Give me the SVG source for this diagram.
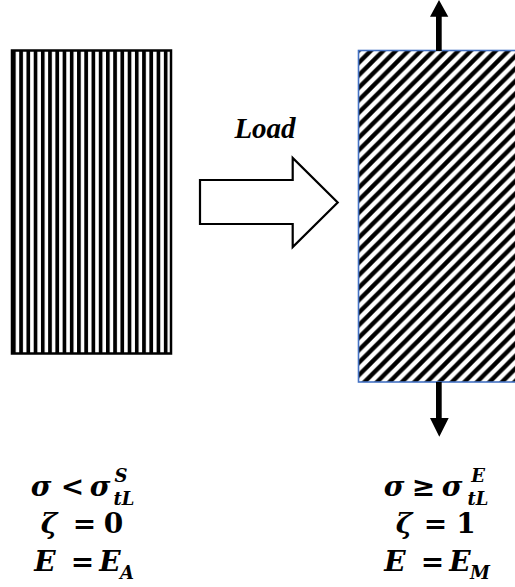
<svg xmlns="http://www.w3.org/2000/svg" width="515" height="587" viewBox="0 0 515 587">
<defs>
  <pattern id="vstripes" patternUnits="userSpaceOnUse" x="12" y="0" width="7.23" height="10">
    <rect x="0" y="0" width="3.7" height="10" fill="#000"/>
  </pattern>
  <pattern id="diag" patternUnits="userSpaceOnUse" x="358.5" y="50.5" width="12.5" height="12.5">
    <path d="M-3,3 L3,-3 M0,12.5 L12.5,0 M9.5,15.5 L15.5,9.5" stroke="#000" stroke-width="4.3" fill="none"/>
  </pattern>
</defs>
<style>
  .m { font-family: "DejaVu Serif", "Liberation Serif", serif; font-weight: bold; font-size: 28px; fill: #000; text-anchor: middle; }
  .i { font-style: italic; }
  .s { font-size: 18px; font-style: italic; }
  .lbl { font-family: "Liberation Serif", "Times New Roman", serif; font-weight: bold; font-style: italic; font-size: 29px; fill: #000; }
</style>

<g id="austenite">
  <rect x="12" y="50.5" width="159" height="303" fill="#fff"/>
  <rect x="12" y="50.5" width="159" height="303" fill="url(#vstripes)" stroke="#000" stroke-width="2.5"/>
</g>

<g id="martensite">
  <rect x="358.5" y="50.5" width="170" height="331.5" fill="#fff"/>
  <rect x="358.5" y="50.5" width="170" height="331.5" fill="url(#diag)" stroke="#4472C4" stroke-width="1.6"/>
</g>

<g id="load-arrow">
  <polygon points="200,180 292.7,180 292.7,158 337.7,202.5 292.7,247 292.7,224 200,224" fill="#fff" stroke="#000" stroke-width="2.2" stroke-linejoin="miter"/>
  <text class="lbl" x="265" y="138" text-anchor="middle">Load</text>
</g>

<g id="connectors">
  <polygon points="436,51 441.7,51 441.7,16.7 448.3,16.7 439,0 430,16.7 436,16.7" fill="#000"/>
  <polygon points="436,382 441.7,382 441.7,418 448.7,418 439.3,436.7 430,418 436,418" fill="#000"/>
</g>

<g id="state-left">
  <text class="m i" x="41" y="496">σ</text>
  <text class="m" x="72.5" y="496">&lt;</text>
  <text class="m i" x="100" y="496">σ</text>
  <text class="m s" x="121" y="482">S</text>
  <text class="m s" x="124" y="505">tL</text>
  <text class="m i" x="49" y="533">ζ</text>
  <text class="m" x="84.5" y="533">=</text>
  <text class="m" x="113.5" y="533">0</text>
  <text class="m i" x="45" y="571">E</text>
  <text class="m" x="82.5" y="571">=</text>
  <text class="m i" x="110" y="571">E</text>
  <text class="m s" x="127" y="579">A</text>
</g>

<g id="state-right">
  <text class="m i" x="394" y="496">σ</text>
  <text class="m" x="423.5" y="496">≥</text>
  <text class="m i" x="452" y="496">σ</text>
  <text class="m s" x="478" y="482">E</text>
  <text class="m s" x="478" y="505">tL</text>
  <text class="m i" x="404" y="533">ζ</text>
  <text class="m" x="435.5" y="533">=</text>
  <text class="m" x="466" y="533">1</text>
  <text class="m i" x="395" y="571">E</text>
  <text class="m" x="432.5" y="571">=</text>
  <text class="m i" x="460" y="571">E</text>
  <text class="m s" x="480" y="579">M</text>
</g>
</svg>
